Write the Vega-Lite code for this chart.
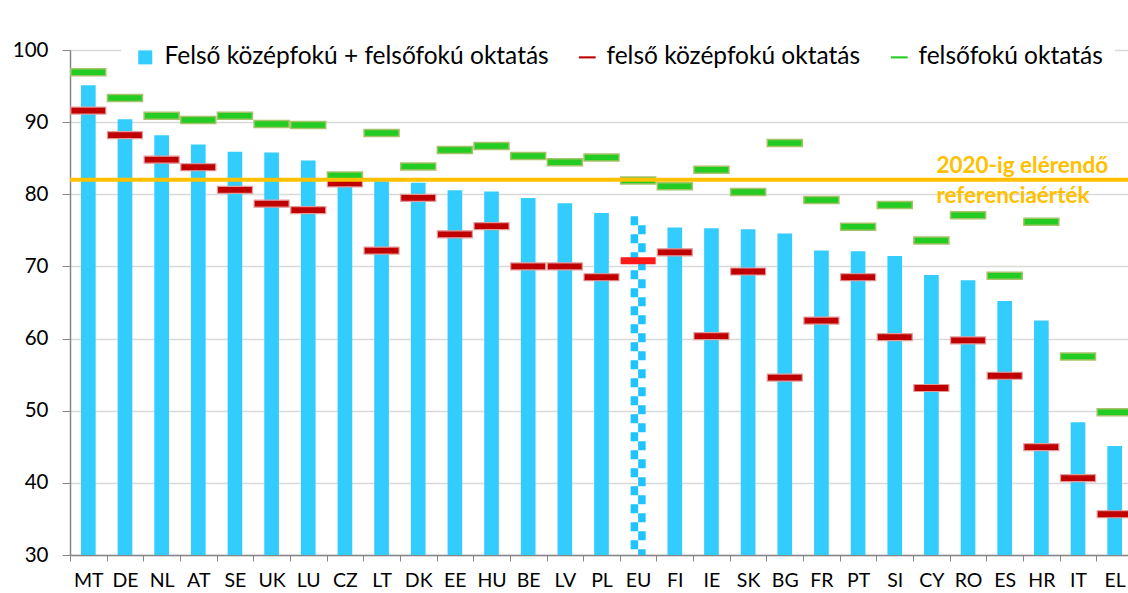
{
  "$schema": "https://vega.github.io/schema/vega-lite/v6.json",
  "autosize": {"type": "none"},
  "width": 1058,
  "height": 505,
  "padding": {"left": 70, "top": 50, "right": 0, "bottom": 38},
  "background": "white",
  "config": {
    "font": "Lato",
    "view": {"stroke": null}
  },
  "datasets": {
    "edu": [
      {"country": "MT", "total": 95.1, "upper": 91.6, "tertiary": 96.9},
      {"country": "DE", "total": 90.4, "upper": 88.2, "tertiary": 93.35},
      {"country": "NL", "total": 88.2, "upper": 84.8, "tertiary": 90.9},
      {"country": "AT", "total": 86.9, "upper": 83.75, "tertiary": 90.3},
      {"country": "SE", "total": 85.9, "upper": 80.6, "tertiary": 90.9},
      {"country": "UK", "total": 85.8, "upper": 78.7, "tertiary": 89.75},
      {"country": "LU", "total": 84.7, "upper": 77.8, "tertiary": 89.6},
      {"country": "CZ", "total": 81.5, "upper": 81.5, "tertiary": 82.6},
      {"country": "LT", "total": 81.8, "upper": 72.2, "tertiary": 88.5},
      {"country": "DK", "total": 81.6, "upper": 79.5, "tertiary": 83.85},
      {"country": "EE", "total": 80.55, "upper": 74.45, "tertiary": 86.15},
      {"country": "HU", "total": 80.4, "upper": 75.6, "tertiary": 86.7},
      {"country": "BE", "total": 79.5, "upper": 70.0, "tertiary": 85.3},
      {"country": "LV", "total": 78.75, "upper": 70.0, "tertiary": 84.45},
      {"country": "PL", "total": 77.4, "upper": 68.5, "tertiary": 85.1},
      {"country": "EU", "total": 76.95, "upper": 70.8, "tertiary": 81.9},
      {"country": "FI", "total": 75.4, "upper": 71.95, "tertiary": 81.1},
      {"country": "IE", "total": 75.3, "upper": 60.35, "tertiary": 83.4},
      {"country": "SK", "total": 75.15, "upper": 69.3, "tertiary": 80.3},
      {"country": "BG", "total": 74.55, "upper": 54.6, "tertiary": 87.1},
      {"country": "FR", "total": 72.2, "upper": 62.5, "tertiary": 79.2},
      {"country": "PT", "total": 72.1, "upper": 68.5, "tertiary": 75.5},
      {"country": "SI", "total": 71.45, "upper": 60.2, "tertiary": 78.5},
      {"country": "CY", "total": 68.8, "upper": 53.15, "tertiary": 73.6},
      {"country": "RO", "total": 68.1, "upper": 59.75, "tertiary": 77.1},
      {"country": "ES", "total": 65.2, "upper": 54.85, "tertiary": 68.7},
      {"country": "HR", "total": 62.5, "upper": 44.95, "tertiary": 76.2},
      {"country": "IT", "total": 48.4, "upper": 40.65, "tertiary": 57.5},
      {"country": "EL", "total": 45.1, "upper": 35.65, "tertiary": 49.8}
    ],
    "ref": [
      {"country": "CY", "value": 82, "label": "2020-ig elérendő referenciaérték"}
    ]
  },
  "data": {"name": "edu"},
  "layer": [
    {
      "transform": [{"filter": "datum.country !== 'EU'"}, {"calculate": "'Felső középfokú + felsőfokú oktatás'", "as": "s"}],
      "mark": {"type": "bar", "width": {"band": 0.4}},
      "encoding": {
        "x": {
          "field": "country",
          "type": "nominal",
          "sort": null,
          "title": null,
          "scale": {
            "domain": ["MT", "DE", "NL", "AT", "SE", "UK", "LU", "CZ", "LT", "DK", "EE", "HU", "BE", "LV", "PL", "EU", "FI", "IE", "SK", "BG", "FR", "PT", "SI", "CY", "RO", "ES", "HR", "IT", "EL"],
            "paddingInner": 0, "paddingOuter": 0, "range": [0, 1063]
          },
          "axis": {
            "tickBand": "extent",
            "labelAngle": 0,
            "labelFont": "Lato",
            "labelFontSize": 19.5,
            "labelColor": "#000000",
            "labelPadding": 10,
            "tickSize": 6,
            "tickColor": "#868686",
            "domainColor": "#868686",
            "domainWidth": 1.5,
            "grid": false
          }
        },
        "y": {
          "field": "total",
          "type": "quantitative",
          "title": null,
          "scale": {"domain": [30, 100], "nice": false, "zero": false},
          "axis": {
            "values": [30, 40, 50, 60, 70, 80, 90, 100],
            "labelFont": "Lato",
            "labelFontSize": 20.5,
            "labelColor": "#000000",
            "labelPadding": 14,
            "tickSize": 8,
            "tickColor": "#868686",
            "domainColor": "#868686",
            "domainWidth": 1.5,
            "gridColor": "#D9D9D9",
            "gridWidth": 1.5
          }
        },
        "y2": {"datum": 30},
        "color": {
          "field": "s",
          "type": "nominal",
          "scale": {
            "domain": ["Felső középfokú + felsőfokú oktatás", "felső középfokú oktatás", "felsőfokú oktatás"],
            "range": ["#33CCFF", "#C00000", "#22CC22"]
          },
          "legend": {
            "title": null,
            "orient": "none",
            "direction": "horizontal",
            "legendX": 51,
            "legendY": -17,
            "fillColor": "white",
            "padding": 12,
            "labelFont": "Lato",
            "labelFontSize": 24.5,
            "labelColor": "#000000",
            "labelOffset": 7,
            "labelLimit": 600,
            "columnPadding": 26,
            "symbolSize": 196,
            "symbolStrokeWidth": 0,
            "encode": {
              "symbols": {
                "update": {
                  "shape": {"signal": "datum.value === 'Felső középfokú + felsőfokú oktatás' ? 'square' : 'M-1.2,-0.15H1.2V0.15H-1.2Z'"},
                  "fill": {"signal": "scale('color', datum.value)"},
                  "opacity": {"value": 1}
                }
              }
            }
          }
        }
      }
    },
    {
      "transform": [{"filter": "datum.country === 'EU'"}],
      "mark": {"type": "rule", "color": "#1FC3FF", "strokeWidth": 7.5, "xOffset": -3.75, "strokeDash": [9, 9]},
      "encoding": {"x": {"field": "country", "type": "nominal"}, "y": {"field": "total", "type": "quantitative"}, "y2": {"datum": 30}}
    },
    {
      "transform": [{"filter": "datum.country === 'EU'"}],
      "mark": {"type": "rule", "color": "#1FC3FF", "strokeWidth": 7.5, "xOffset": 3.75, "strokeDash": [9, 9], "strokeDashOffset": 9},
      "encoding": {"x": {"field": "country", "type": "nominal"}, "y": {"field": "total", "type": "quantitative"}, "y2": {"datum": 30}}
    },
    {
      "transform": [{"filter": "datum.country !== 'EU'"}, {"calculate": "'felső középfokú oktatás'", "as": "s"}],
      "mark": {"type": "tick", "size": 35, "thickness": 7, "stroke": "#E39B9B", "strokeWidth": 1.2, "opacity": 1},
      "encoding": {
        "x": {"field": "country", "type": "nominal"},
        "y": {"field": "upper", "type": "quantitative"},
        "color": {"field": "s", "type": "nominal"}
      }
    },
    {
      "transform": [{"filter": "datum.country === 'EU'"}],
      "mark": {"type": "tick", "size": 35, "thickness": 7, "color": "#FF1A1A", "opacity": 1},
      "encoding": {"x": {"field": "country", "type": "nominal"}, "y": {"field": "upper", "type": "quantitative"}}
    },
    {
      "transform": [{"calculate": "'felsőfokú oktatás'", "as": "s"}],
      "mark": {"type": "tick", "size": 35, "thickness": 7, "stroke": "#A6C36A", "strokeWidth": 1.5, "opacity": 1},
      "encoding": {
        "x": {"field": "country", "type": "nominal"},
        "y": {"field": "tertiary", "type": "quantitative"},
        "color": {"field": "s", "type": "nominal"}
      }
    },
    {
      "data": {"name": "ref"},
      "mark": {"type": "rule", "color": "#FFC000", "strokeWidth": 4},
      "encoding": {"y": {"field": "value", "type": "quantitative"}}
    },
    {
      "data": {"name": "ref"},
      "mark": {"type": "text", "text": ["2020-ig elérendő", "referenciaérték"], "align": "left", "baseline": "middle", "dx": 5, "dy": -14, "lineHeight": 30, "font": "Lato", "fontSize": 22.5, "fontWeight": "bold", "color": "#FFC000"},
      "encoding": {"x": {"field": "country", "type": "nominal"}, "y": {"field": "value", "type": "quantitative"}}
    }
  ]
}
